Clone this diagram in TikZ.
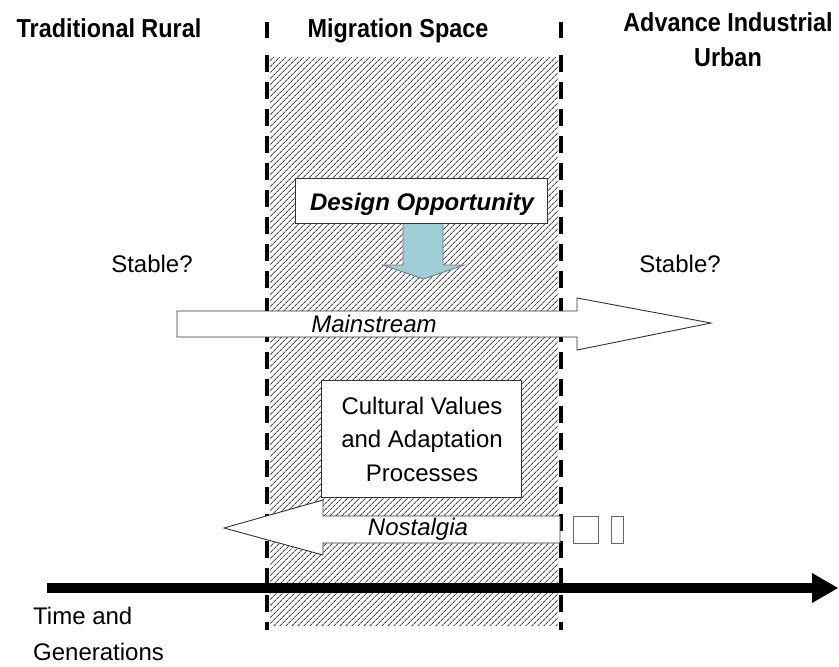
\documentclass[tikz,border=0pt]{standalone}
\usepackage{fontspec}
\setmainfont{Liberation Sans}
\newfontfamily\headfont[FakeStretch=0.9]{Liberation Sans}
\usetikzlibrary{patterns.meta}
\definecolor{oppblue}{RGB}{160,206,214}
\begin{document}
\begin{tikzpicture}[x=1pt,y=-1pt,
  header/.style={font=\headfont\bfseries\fontsize{26}{35}\selectfont, inner sep=0pt},
  body/.style={font=\fontsize{24}{33.5}\selectfont, inner sep=0pt},
  dashline/.style={line width=3.5pt, black},
  blockarrow/.style={draw=black!80, fill=white, line width=0.9pt, line join=miter},
  textbox/.style={draw=black!80, fill=white, line width=0.9pt},
  glyphbox/.style={draw=black!60, line width=0.8pt}]
\useasboundingbox (0,0) rectangle (839,667);

% hatched migration band
\fill[pattern={Lines[angle=45,distance=4pt,line width=1pt]}, pattern color=black!70]
  (270,57) rectangle (558,625);

% dashed borders of the band
\foreach \x in {267,561}{
  \draw[dashline] (\x,22) -- (\x,38);
  \draw[dashline, dash pattern=on 17pt off 10pt] (\x,55) -- (\x,630);
}

% column headings
\node[header, anchor=base] (rural) at (109,37) {Traditional Rural};
\node[header, anchor=base] (migr) at (398,37) {Migration Space};
\node[header, align=center, anchor=center] (urban) at (728,40) {Advance Industrial\\Urban};

% stability questions
\node[body, anchor=base] (stabL) at (152,272) {Stable?};
\node[body, anchor=base] (stabR) at (680,272) {Stable?};

% design opportunity arrow and box
\draw[fill=oppblue, draw=black!55, line width=0.8pt]
  (403,220) -- (443,220) -- (443,265) -- (464,265) -- (423.5,279) -- (383,265) -- (403,265) -- cycle;
\node[textbox, minimum width=252pt, minimum height=45pt] (oppbox) at (421,200.5) {};
\node[body, anchor=base, font=\bfseries\itshape\fontsize{24}{28}\selectfont] (opptext) at (422,210) {Design Opportunity};

% mainstream arrow
\draw[blockarrow] (177,311) -- (577,311) -- (577,298) -- (711,323) -- (577,350) -- (577,337) -- (177,337) -- cycle;
\node[body, anchor=base, font=\itshape\fontsize{24}{28}\selectfont] (mainst) at (374,332) {Mainstream};

% cultural values box
\node[textbox, minimum width=200pt, minimum height=117pt] (cultbox) at (421,438.5) {};
\node[body, align=center, anchor=center] (culttext) at (422,439.3) {Cultural Values\\and Adaptation\\Processes};

% nostalgia arrow
\draw[blockarrow] (560,516) -- (323,516) -- (323,500) -- (224,528) -- (323,555) -- (323,543) -- (560,543) -- cycle;
\node[body, anchor=base, font=\itshape\fontsize{24}{28}\selectfont] (nost) at (418,535) {Nostalgia};
\draw[glyphbox] (573,516) rectangle (598,543);
\draw[glyphbox] (611,516) rectangle (623,543);

% time axis
\coordinate (tstart) at (47,588);
\coordinate (tend) at (814,588);
\draw[line width=10pt] (tstart) -- (tend);
\fill (812,573) -- (838,588) -- (812,603) -- cycle;
\node[body, align=left, anchor=west, font=\fontsize{24}{36}\selectfont] (time) at (33,634) {Time and\\Generations};
\end{tikzpicture}
\end{document}
